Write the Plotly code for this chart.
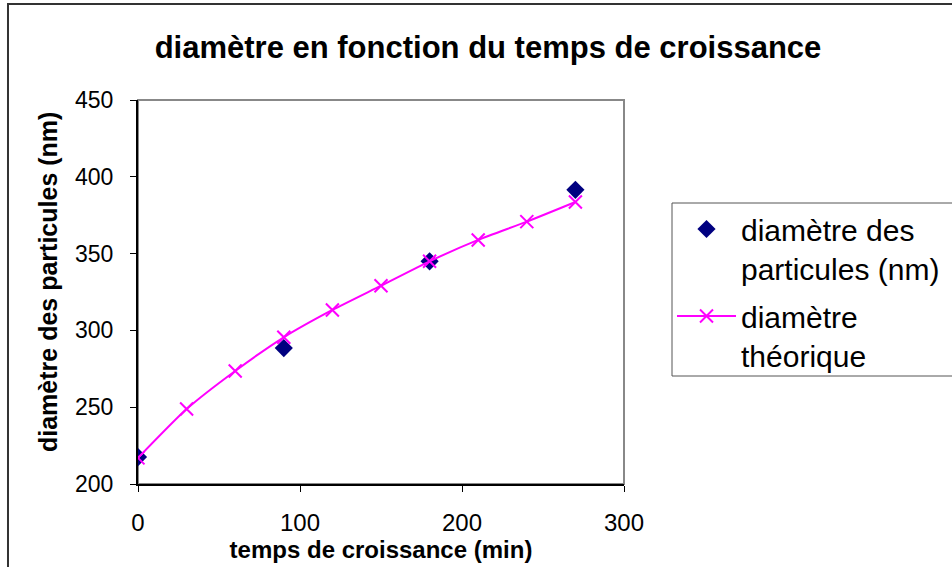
import plotly.graph_objects as go

# Measured particle diameter vs growth time
t_mesure = [0, 90, 180, 270]
d_mesure = [217.5, 288.5, 345.0, 391.5]

# Theoretical diameter curve
t_theo = [0, 30, 60, 90, 120, 150, 180, 210, 240, 270]
d_theo = [217.0, 248.8, 273.6, 295.5, 313.3, 329.1, 345.0, 358.9, 370.8, 383.6]

x_ticks = [0, 100, 200, 300]
y_ticks = [200, 250, 300, 350, 400, 450]

FONT = "Liberation Sans, Arial, sans-serif"

fig = go.Figure()

fig.add_trace(go.Scatter(
    x=t_mesure, y=d_mesure, mode="markers",
    name="diamètre des<br>particules (nm)", legendgroup="mesure",
    marker=dict(symbol="diamond", size=14, color="#000080",
                line=dict(width=0)),
))
fig.add_trace(go.Scatter(
    x=t_theo, y=d_theo, mode="lines+markers",
    name="diamètre<br>théorique", legendgroup="theorie",
    line=dict(color="#FF00FF", width=2, shape="spline", smoothing=0.6),
    marker=dict(symbol="x-thin-open", size=13, color="#FF00FF",
                line=dict(width=2, color="#FF00FF")),
))

# outer chart frame
fig.add_shape(type="rect", xref="paper", yref="paper",
              x0=-0.2675, x1=1.7, y0=-0.3, y1=1.25,
              line=dict(color="#333333", width=2), layer="below")
# plot area border (top/right in grey)
fig.add_shape(type="rect", xref="paper", yref="paper",
              x0=0, x1=1, y0=0, y1=1,
              line=dict(color="#888888", width=2), layer="below")
# legend box, running past the right edge of the chart
fig.add_shape(type="rect", xref="paper", yref="paper",
              x0=(672 - 138) / 486, x1=1.7,
              y0=(484 - 376) / 384, y1=(484 - 203) / 384,
              line=dict(color="#555555", width=1), layer="below")

# y axis title
fig.add_annotation(text="<b>diamètre des particules (nm)</b>",
                   xref="paper", yref="paper",
                   x=(48 - 138) / 486, y=(484 - 282) / 384,
                   xanchor="center", yanchor="middle", textangle=-90,
                   showarrow=False, font=dict(size=25, family=FONT, color="black"))

fig.update_layout(
    width=952, height=567,
    margin=dict(l=138, r=328, t=100, b=83, autoexpand=False),
    paper_bgcolor="white", plot_bgcolor="white",
    font=dict(family=FONT, color="black"),
    title=dict(text="<b>diamètre en fonction du temps de croissance</b>",
               x=488 / 952, xanchor="center", y=1 - 47 / 567, yanchor="middle",
               font=dict(size=31, family=FONT, color="black")),
    legend=dict(x=(672 - 138) / 486, y=(484 - 203) / 384,
                xanchor="left", yanchor="top", valign="top",
                borderwidth=0, bgcolor="rgba(0,0,0,0)",
                font=dict(size=30, family=FONT, color="black"),
                itemwidth=59, tracegroupgap=6),
    xaxis=dict(range=[0, 300], tickvals=x_ticks, ticks="outside", ticklen=6,
               tickcolor="black", linecolor="black", linewidth=2,
               showgrid=False, zeroline=False, showline=True,
               tickfont=dict(size=24, family=FONT), ticklabelstandoff=10,
               title=dict(text="<b>temps de croissance (min)</b>",
                          font=dict(size=24, family=FONT), standoff=2)),
    yaxis=dict(range=[200, 450], tickvals=y_ticks, ticks="outside", ticklen=6,
               tickcolor="black", linecolor="black", linewidth=2,
               showgrid=False, zeroline=False, showline=True,
               tickfont=dict(size=23, family=FONT), ticklabelstandoff=12),
)

fig.write_html("out.html")
